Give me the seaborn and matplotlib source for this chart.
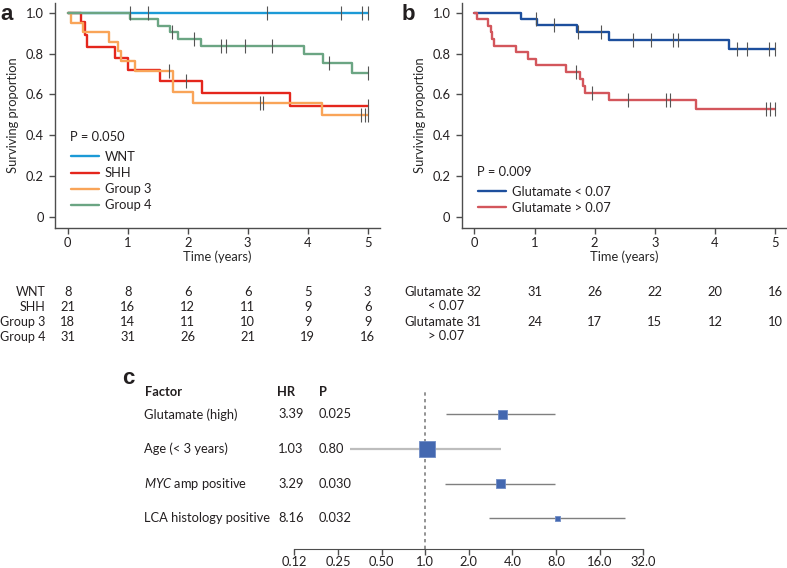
import numpy as np
import pandas as pd
import matplotlib
matplotlib.use("Agg")
import matplotlib.pyplot as plt
from matplotlib.transforms import blended_transform_factory
import seaborn as sns

# ---- panel a: subgroups ----
years = [0, 1, 2, 3, 4, 5]
grp_names = ["WNT", "SHH", "Group 3", "Group 4"]
wnt_events, wnt_surv = [], []
wnt_cens = [1.03, 1.33, 3.32, 4.55, 4.90, 5.0]
shh_events = [0.22, 0.28, 0.32, 0.79, 1.01, 1.53, 2.23, 3.71]
shh_surv = [0.952, 0.893, 0.833, 0.778, 0.722, 0.667, 0.607, 0.546]
shh_cens = [1.97, 5.0]
g3_events = [0.06, 0.26, 0.68, 0.83, 0.88, 1.12, 1.76, 2.08, 4.23]
g3_surv = [0.948, 0.904, 0.858, 0.81, 0.763, 0.714, 0.614, 0.56, 0.5]
g3_cens = [1.68, 3.20, 3.26, 4.88, 4.95, 5.0]
g4_events = [1.04, 1.50, 1.71, 1.84, 2.22, 3.94, 4.26, 4.74]
g4_surv = [0.968, 0.935, 0.903, 0.871, 0.836, 0.796, 0.755, 0.707]
g4_cens = [1.73, 2.11, 2.55, 2.63, 2.96, 3.41, 4.36, 5.0]
risk_wnt = [8, 8, 6, 6, 5, 3]
risk_shh = [21, 16, 12, 11, 9, 6]
risk_g3 = [18, 14, 11, 10, 9, 9]
risk_g4 = [31, 31, 26, 21, 19, 16]

# ---- panel b: glutamate ----
glu_names = ["Glutamate < 0.07", "Glutamate > 0.07"]
glu_row_labels = ["Glutamate\n< 0.07", "Glutamate\n> 0.07"]
low_events = [0.78, 1.04, 1.70, 2.23, 4.24]
low_surv = [0.969, 0.9375, 0.904, 0.866, 0.824]
low_cens = [1.02, 1.33, 1.73, 2.11, 2.63, 2.94, 3.31, 3.39, 4.36, 4.53, 4.89, 5.0]
high_events = [0.05, 0.23, 0.27, 0.29, 0.33, 0.69, 0.90, 1.02, 1.53, 1.76, 1.80, 1.84, 2.24, 3.69]
high_surv = [0.968, 0.935, 0.903, 0.871, 0.839, 0.806, 0.774, 0.742, 0.709, 0.676, 0.642, 0.609, 0.573, 0.528]
high_cens = [1.69, 1.96, 2.55, 3.19, 3.25, 4.85, 4.92, 5.0]
risk_low = [32, 31, 26, 22, 20, 16]
risk_high = [31, 24, 17, 15, 12, 10]

# ---- panel c: forest ----
factors = ["Glutamate (high)", "Age (< 3 years)", "MYC amp positive", "LCA histology positive"]
hr = [3.39, 1.03, 3.29, 8.16]
hr_text = ["3.39", "1.03", "3.29", "8.16"]
p_text = ["0.025", "0.80", "0.030", "0.032"]
ci_low = [1.40, 0.305, 1.36, 2.74]
ci_high = [7.93, 3.35, 7.85, 24.0]
hr_ticks = [0.125, 0.25, 0.5, 1, 2, 4, 8, 16, 32]
hr_ticklabels = ["0.12", "0.25", "0.50", "1.0", "2.0", "4.0", "8.0", "16.0", "32.0"]

# styles
box_px = [9, 16, 9, 5]
grp_colors = ["#1c9ad6", "#e4261c", "#f9a458", "#6ba583"]
glu_colors = ["#1d4f9d", "#d3565c"]
box_color = "#4468b0"
txt = "#231f20"
spine_c = "#4d4d4d"
FS = 9.3

sns.set_style("ticks")
plt.rcParams["font.family"] = ["Lato", "DejaVu Sans"]
plt.rcParams["mathtext.fontset"] = "custom"
plt.rcParams["mathtext.rm"] = "Lato"
plt.rcParams["mathtext.it"] = "Lato:italic"
plt.rcParams["font.size"] = FS
plt.rcParams["text.color"] = txt

W, H = 787, 568
fig = plt.figure(figsize=(W / 100, H / 100), dpi=100)


def fx(px):
    return px / W


def fy(py):
    return 1 - py / H


def km_frame(events, surv):
    t = [0.0] + list(events) + [5.0]
    s = [1.0] + list(surv) + [([1.0] + list(surv))[-1]]
    return pd.DataFrame({"t": t, "s": s})


def cens_y(events, surv, cens):
    s_all = np.array([1.0] + list(surv))
    idx = np.searchsorted(np.array(events), np.array(cens), side="right")
    return s_all[idx]


def km_axes(ax, curves, names, colors):
    for (ev, sv, ce), name, col in zip(curves, names, colors):
        df = km_frame(ev, sv)
        sns.lineplot(data=df, x="t", y="s", drawstyle="steps-post", color=col,
                     lw=1.7, ax=ax, label=name, estimator=None, sort=False)
    for (ev, sv, ce) in curves:
        ax.plot(ce, cens_y(ev, sv, ce), ls="", marker="|", ms=10, mew=0.8,
                color="#555555", zorder=5)
    ax.set_ylim(-0.054, 1.047)
    ax.set_yticks([0, 0.2, 0.4, 0.6, 0.8, 1.0])
    ax.set_yticklabels(["0", "0.2", "0.4", "0.6", "0.8", "1.0"])
    ax.set_xticks(years)
    ax.set_xticklabels([str(y) for y in years])
    ax.set_ylabel("Surviving proportion", labelpad=5)
    ax.set_xlabel("Time (years)")
    ax.xaxis.set_label_coords(0.5, -(257 - 228.3) / 225.3)
    ax.xaxis.label.set_va("center")
    sns.despine(ax=ax)
    for sp in ["left", "bottom"]:
        ax.spines[sp].set_color(spine_c)
        ax.spines[sp].set_linewidth(1.0)
    ax.tick_params(direction="out", length=4.5, width=1.0, color=spine_c,
                   labelsize=FS, labelcolor=txt)
    ax.tick_params(axis="x", pad=1.5)


# ---- panel a ----
ax_a = fig.add_axes([fx(55), fy(228.3), fx(380 - 55), (228.3 - 3) / H])
km_axes(ax_a,
        [(wnt_events, wnt_surv, wnt_cens), (shh_events, shh_surv, shh_cens),
         (g3_events, g3_surv, g3_cens), (g4_events, g4_surv, g4_cens)],
        grp_names, grp_colors)
ax_a.set_xlim(-0.212, 5.205)
ax_a.legend(loc="upper left", bbox_to_anchor=(fx(71), fy(151)),
            bbox_transform=fig.transFigure, frameon=False, borderpad=0,
            borderaxespad=0, handlelength=2.15, handletextpad=0.45,
            labelspacing=0.32, fontsize=FS)
fig.text(fx(70), fy(136.7), "P = 0.050", va="center", ha="left", fontsize=FS)
fig.text(fx(0), fy(14), "a", fontsize=16, fontweight="bold",
         family="Liberation Sans", va="center", ha="left")

tr_a = blended_transform_factory(ax_a.transData, fig.transFigure)
for lab, row, ypx in zip(grp_names, [risk_wnt, risk_shh, risk_g3, risk_g4],
                         [292.5, 307.2, 322, 336.7]):
    fig.text(fx(45.5), fy(ypx), lab, ha="right", va="center", fontsize=9)
    for yr, n in zip(years, row):
        ax_a.text(yr, fy(ypx), str(n), transform=tr_a, ha="center",
                  va="center", fontsize=FS)

# ---- panel b ----
ax_b = fig.add_axes([fx(461.7), fy(228.3), fx(786 - 461.7), (228.3 - 3) / H])
km_axes(ax_b,
        [(low_events, low_surv, low_cens), (high_events, high_surv, high_cens)],
        glu_names, glu_colors)
ax_b.set_xlim(-0.21, 5.18)
ax_b.legend(loc="upper left", bbox_to_anchor=(fx(478), fy(185.5)),
            bbox_transform=fig.transFigure, frameon=False, borderpad=0,
            borderaxespad=0, handlelength=2.15, handletextpad=0.45,
            labelspacing=0.32, fontsize=FS)
fig.text(fx(477), fy(171.7), "P = 0.009", va="center", ha="left", fontsize=FS)
fig.text(fx(402), fy(14), "b", fontsize=16, fontweight="bold",
         family="Liberation Sans", va="center", ha="left")

tr_b = blended_transform_factory(ax_b.transData, fig.transFigure)
for lab, row, ypx in zip(glu_row_labels, [risk_low, risk_high], [291.7, 322.3]):
    fig.text(fx(464), fy(ypx + 7), lab, ha="right", va="center", fontsize=FS,
             multialignment="right", linespacing=1.2)
    for yr, n in zip(years, row):
        ax_b.text(yr, fy(ypx), str(n), transform=tr_b, ha="center",
                  va="center", fontsize=FS)

# ---- panel c ----
ax_c = fig.add_axes([fx(294.3), fy(549), fx(643.3 - 294.3), (549 - 392) / H])
rows = np.arange(len(factors))
forest = pd.DataFrame({"factor": factors, "hr": hr, "lo": ci_low, "hi": ci_high,
                       "row": rows})
ci_cols = ["#7f7f7f", "#bdbdbd", "#7f7f7f", "#7f7f7f"]
ci_lw = [1.0, 1.6, 1.0, 1.0]
for r, lo, hi, c, lw in zip(rows, ci_low, ci_high, ci_cols, ci_lw):
    ax_c.plot([lo, hi], [r, r], color=c, lw=lw, zorder=2, solid_capstyle="butt")
sns.scatterplot(data=forest, x="hr", y="row", marker="s", color=box_color,
                s=[(b * 0.72) ** 2 for b in box_px], edgecolor="#6f8cc6",
                linewidth=0.6, ax=ax_c, zorder=3, legend=False)
ax_c.axvline(1.0, color="#808080", lw=1.2, ls=(0, (2, 2)), zorder=1)
ax_c.set_xscale("log", base=2)
ax_c.set_xlim(0.125, 32)
ax_c.set_ylim(3.885, -0.643)
ax_c.set_xticks(hr_ticks)
ax_c.set_xticklabels(hr_ticklabels)
ax_c.minorticks_off()
ax_c.set_yticks([])
ax_c.set_xlabel("")
ax_c.set_ylabel("")
sns.despine(ax=ax_c, left=True)
ax_c.spines["bottom"].set_color(spine_c)
ax_c.tick_params(axis="x", direction="out", length=4, width=1.0, color=spine_c,
                 labelsize=FS, labelcolor=txt, pad=1)

fig.text(fx(122), fy(379), "c", fontsize=16, fontweight="bold",
         family="Liberation Sans", va="center", ha="left")
fig.text(fx(144.5), fy(391.7), "Factor", fontweight="bold", va="center", fontsize=FS)
fig.text(fx(277), fy(391.7), "HR", fontweight="bold", va="center", fontsize=FS)
fig.text(fx(319), fy(391.7), "P", fontweight="bold", va="center", fontsize=FS)
tr_c = blended_transform_factory(fig.transFigure, ax_c.transData)
for r, name, h, p in zip(rows, factors, hr_text, p_text):
    if name.startswith("MYC"):
        name = r"$\it{MYC}$" + name[3:]
    ax_c.text(fx(144.5), r, name, transform=tr_c, va="center", ha="left", fontsize=FS)
    ax_c.text(fx(278), r, h, transform=tr_c, va="center", ha="left", fontsize=FS)
    ax_c.text(fx(319), r, p, transform=tr_c, va="center", ha="left", fontsize=FS)

fig.savefig("out.png", dpi=100)
